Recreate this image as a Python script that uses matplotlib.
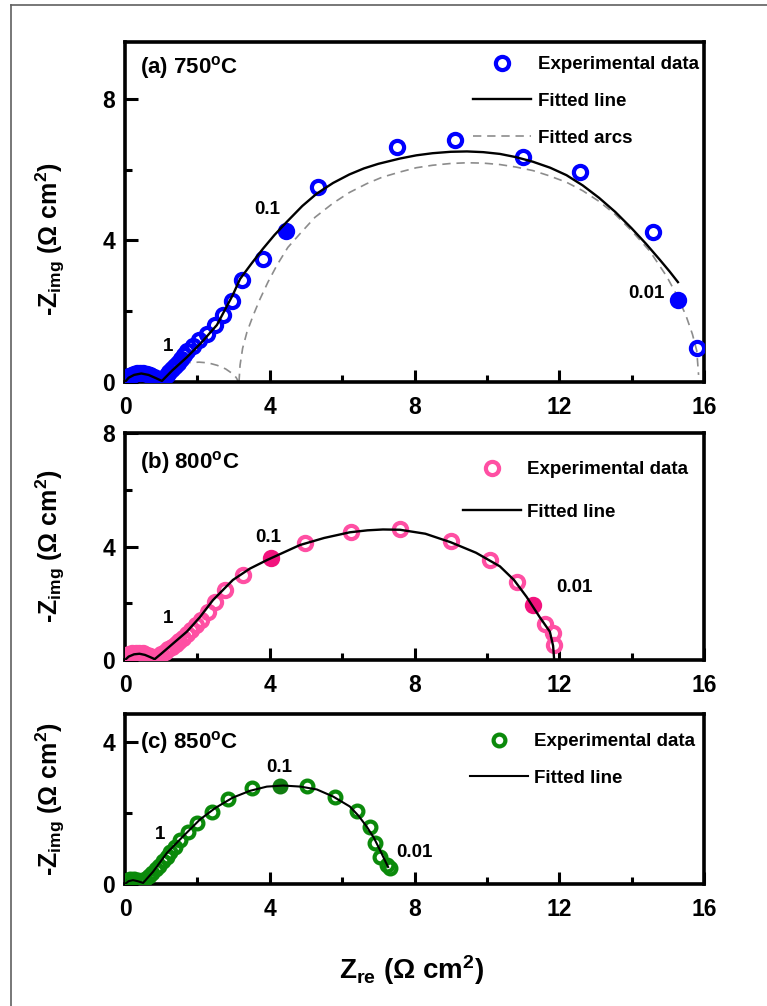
import matplotlib
matplotlib.use("Agg")
import matplotlib.pyplot as plt
from matplotlib.lines import Line2D
from matplotlib.ticker import MultipleLocator

plt.rcParams['font.family'] = ['Liberation Sans', 'DejaVu Sans']
plt.rcParams['font.weight'] = 'bold'
plt.rcParams['axes.labelweight'] = 'bold'
plt.rcParams['mathtext.fontset'] = 'custom'
plt.rcParams['mathtext.rm'] = 'Liberation Sans'
plt.rcParams['mathtext.bf'] = 'Liberation Sans:bold'
plt.rcParams['mathtext.it'] = 'Liberation Sans:bold'
plt.rcParams['mathtext.default'] = 'bf'

# ---------------- Panel (a) 750 C ----------------
a_exp_x = [0.05, 0.08, 0.12, 0.18, 0.25, 0.33, 0.42, 0.5, 0.6, 0.7, 0.8, 0.9, 1.0,
           1.08, 1.15, 1.22, 1.3, 1.38, 1.46, 1.55, 1.63, 1.71, 1.88, 2.05, 2.26, 2.49,
           2.71, 2.96, 3.23, 3.81, 5.33, 7.51, 9.12, 11.0, 12.57, 14.59, 15.8]
a_exp_y = [0.05, 0.12, 0.17, 0.21, 0.24, 0.25, 0.26, 0.25, 0.23, 0.19, 0.14, 0.09, 0.05,
           0.12, 0.2, 0.28, 0.36, 0.45, 0.55, 0.66, 0.77, 0.88, 1.02, 1.19, 1.36, 1.61,
           1.89, 2.29, 2.88, 3.47, 5.51, 6.64, 6.84, 6.36, 5.93, 4.24, 0.96]
a_fill_x = [4.45, 15.28]
a_fill_y = [4.27, 2.32]
a_fit_x = [0.0, 0.1, 0.25, 0.45, 0.65, 0.85, 1.02, 1.3, 1.71, 2.1, 2.54, 2.98, 3.18, 3.5,
           3.81, 4.13, 4.47, 4.9, 5.3, 5.75, 6.2, 6.6, 7.0, 7.6, 8.05, 8.5, 9.0, 9.45, 9.9,
           10.36, 10.8, 11.27, 11.75, 12.2, 12.65, 13.1, 13.55, 14.0, 14.4, 14.78, 15.05,
           15.28]
a_fit_y = [0.0, 0.12, 0.2, 0.24, 0.2, 0.11, 0.03, 0.32, 0.7, 1.1, 1.61, 2.46, 2.91, 3.35,
           3.76, 4.15, 4.52, 4.97, 5.32, 5.62, 5.86, 6.03, 6.16, 6.31, 6.4, 6.46, 6.5, 6.51,
           6.49, 6.44, 6.35, 6.22, 6.05, 5.84, 5.55, 5.2, 4.8, 4.34, 3.9, 3.45, 3.12,
           2.82]
a_arc1_x = [0.0, 0.05, 0.12, 0.22, 0.35, 0.5, 0.65, 0.78, 0.9, 0.98, 1.04]
a_arc1_y = [0.0, 0.1, 0.16, 0.21, 0.24, 0.25, 0.24, 0.2, 0.14, 0.08, 0.0]
a_arc2_x = [1.04, 1.1, 1.2, 1.35, 1.55, 1.8, 2.05, 2.3, 2.55, 2.78, 2.95, 3.07, 3.14]
a_arc2_y = [0.0, 0.18, 0.3, 0.41, 0.5, 0.55, 0.56, 0.54, 0.47, 0.37, 0.25, 0.13, 0.0]
a_arc3_x = [3.15, 3.18, 3.25, 3.37, 3.55, 3.73, 3.95, 4.2, 4.5, 4.83, 5.25, 5.75, 6.2, 6.68,
            7.1, 7.6, 8.05, 8.5, 9.0, 9.45, 9.9, 10.36, 10.8, 11.27, 11.7, 12.2, 12.65,
            13.1, 13.55, 14.0, 14.5, 14.97, 15.25, 15.5, 15.68, 15.8, 15.85]
a_arc3_y = [0.0, 0.48, 0.95, 1.41, 1.9, 2.34, 2.82, 3.3, 3.8, 4.18, 4.65, 5.05, 5.35, 5.6,
            5.78, 5.93, 6.05, 6.12, 6.17, 6.19, 6.18, 6.14, 6.07, 5.97, 5.83, 5.64, 5.4,
            5.1, 4.73, 4.27, 3.7, 2.98, 2.45, 1.88, 1.35, 0.88, 0.2]

# ---------------- Panel (b) 800 C ----------------
b_exp_x = [0.03, 0.07, 0.12, 0.2, 0.3, 0.4, 0.5, 0.6, 0.7, 0.8, 0.9, 1.0, 1.1, 1.2, 1.3,
           1.4, 1.5, 1.6, 1.7, 1.82, 1.95, 2.1, 2.28, 2.49, 2.76, 3.26, 4.97, 6.24, 7.59,
           9.0, 10.1, 10.83, 11.6, 11.83, 11.85]
b_exp_y = [0.08, 0.15, 0.2, 0.24, 0.26, 0.26, 0.24, 0.19, 0.13, 0.08, 0.12, 0.2, 0.29,
           0.38, 0.47, 0.57, 0.67, 0.78, 0.9, 1.05, 1.22, 1.42, 1.7, 2.04, 2.46, 2.99, 4.12,
           4.52, 4.6, 4.2, 3.52, 2.75, 1.28, 0.95, 0.53]
b_fill_x = [4.03, 11.27]
b_fill_y = [3.6, 1.94]
b_fit_x = [0.0, 0.1, 0.25, 0.4, 0.55, 0.7, 0.82, 1.0, 1.3, 1.71, 2.07, 2.43, 2.98, 3.45,
           3.92, 4.4, 4.83, 5.5, 6.21, 6.7, 7.13, 7.6, 8.3, 9.0, 9.7, 10.36, 10.75, 11.1,
           11.46, 11.74, 11.83, 11.86]
b_fit_y = [0.0, 0.12, 0.2, 0.22, 0.18, 0.1, 0.03, 0.22, 0.55, 1.0, 1.51, 2.11, 2.82, 3.22,
           3.52, 3.8, 4.05, 4.3, 4.5, 4.57, 4.6, 4.59, 4.45, 4.15, 3.78, 3.3, 2.82, 2.22,
           1.51, 1.0, 0.5, 0.0]

# ---------------- Panel (c) 850 C ----------------
c_exp_x = [0.03, 0.08, 0.15, 0.25, 0.35, 0.45, 0.55, 0.65, 0.75, 0.85, 0.95, 1.05, 1.15,
           1.25, 1.38, 1.52, 1.74, 1.99, 2.4, 2.85, 3.51, 5.03, 5.8, 6.41, 6.77, 6.91,
           7.04, 7.24, 7.32]
c_exp_y = [0.05, 0.1, 0.13, 0.14, 0.12, 0.08, 0.14, 0.22, 0.32, 0.42, 0.52, 0.64, 0.76,
           0.9, 1.05, 1.25, 1.48, 1.73, 2.02, 2.39, 2.7, 2.76, 2.47, 2.05, 1.62, 1.16,
           0.77, 0.54, 0.45]
c_fill_x = [4.28]
c_fill_y = [2.76]
c_fit_x = [0.0, 0.1, 0.22, 0.35, 0.5, 0.77, 1.16, 1.6, 2.07, 2.5, 2.98, 3.45, 3.92, 4.37,
           4.85, 5.3, 5.75, 6.21, 6.45, 6.68, 6.88, 7.04, 7.27]
c_fit_y = [0.0, 0.08, 0.11, 0.08, 0.03, 0.34, 0.88, 1.34, 1.82, 2.15, 2.44, 2.63, 2.75,
           2.78, 2.75, 2.67, 2.47, 2.19, 1.93, 1.62, 1.3, 0.97, 0.48]

freq_labels = ['1', '0.1', '0.01']
titles = ['(a) 750$^{\\mathrm{o}}$C', '(b) 800$^{\\mathrm{o}}$C', '(c) 850$^{\\mathrm{o}}$C']
x_ticks = [0, 4, 8, 12, 16]

fig = plt.figure(figsize=(7.67, 10.06), dpi=100)
W, H = 767.0, 1006.0

def axes_px(top, bottom, left=125, right=704):
    return fig.add_axes([left / W, 1 - bottom / H, (right - left) / W, (bottom - top) / H])

ax_a = axes_px(42, 382)
ax_b = axes_px(433, 660)
ax_c = axes_px(714, 884)

blue = '#0000ff'
pink = '#ff4fa3'
pink_fill = '#f2137d'
green = '#0b8a0b'
green_fill = '#117d11'

ms, mew = 9.5, 3.0

def style(ax, ymax, ymajor, ylab_y):
    ax.set_xlim(0, 16)
    ax.set_ylim(0, ymax)
    ax.set_xticks(x_ticks)
    ax.xaxis.set_minor_locator(MultipleLocator(2))
    ax.yaxis.set_major_locator(MultipleLocator(ymajor))
    ax.yaxis.set_minor_locator(MultipleLocator(2))
    ax.tick_params(which='major', direction='in', length=9, width=2.2, labelsize=16.5, pad=7)
    ax.tick_params(which='minor', direction='in', length=5, width=2.2)
    ax.tick_params(axis='x', which='major', pad=10)
    for s in ax.spines.values():
        s.set_linewidth(2.6)
    for lbl in ax.get_xticklabels() + ax.get_yticklabels():
        lbl.set_fontweight('bold')
    ax.set_ylabel('-Z$_{\\mathbf{img}}$ ($\\mathrm{\\Omega}$ cm$^{\\mathbf{2}}$)', fontsize=18,
                  fontweight='bold')
    ax.yaxis.set_label_coords((50 - 125) / 579.0, ylab_y)
    ax.yaxis.label.set_verticalalignment('center')

# Panel (a)
ax = ax_a
ax.plot(a_exp_x, a_exp_y, 'o', mfc='none', mec=blue, ms=ms, mew=mew, zorder=3, label='Experimental data')
ax.plot(a_fill_x, a_fill_y, 'o', mfc=blue, mec=blue, ms=ms, mew=mew, zorder=3)
ax.plot(a_fit_x, a_fit_y, '-', color='black', lw=1.7, zorder=4, label='Fitted line')
ax.plot(a_arc3_x, a_arc3_y, '--', color='#8c8c8c', lw=1.2, dashes=(5, 3.5), zorder=2, label='Fitted arcs')
ax.plot(a_arc1_x, a_arc1_y, '--', color='#8c8c8c', lw=1.2, dashes=(5, 3.5), zorder=2)
ax.plot(a_arc2_x, a_arc2_y, '--', color='#8c8c8c', lw=1.2, dashes=(5, 3.5), zorder=2)
style(ax, 9.6, 4, 0.42)
ax.text(0.026, 0.924, titles[0], transform=ax.transAxes, fontsize=16, ha='left', va='center')
ax.text(1.19, 0.99, freq_labels[0], fontsize=13.5, ha='center', va='center')
ax.text(3.92, 4.86, freq_labels[1], fontsize=13.5, ha='center', va='center')
ax.text(14.42, 2.49, freq_labels[2], fontsize=13.5, ha='center', va='center')
leg = ax.legend(loc='upper left', bbox_to_anchor=((473 - 125) / 579.0, (382 - 56) / 340.0),
                frameon=False, fontsize=13.5, handlelength=3.1, handletextpad=0.35,
                labelspacing=1.05, borderpad=0, borderaxespad=0)
leg.set_zorder(5)

# Panel (b)
ax = ax_b
ax.plot(b_exp_x, b_exp_y, 'o', mfc='none', mec=pink, ms=ms, mew=mew, zorder=3, label='Experimental data')
ax.plot(b_fill_x, b_fill_y, 'o', mfc=pink_fill, mec=pink_fill, ms=ms, mew=mew, zorder=3)
ax.plot(b_fit_x, b_fit_y, '-', color='black', lw=1.7, zorder=4, label='Fitted line')
style(ax, 8, 4, 0.5)
ax.text(0.026, 0.868, titles[1], transform=ax.transAxes, fontsize=16, ha='left', va='center')
ax.text(1.19, 1.48, freq_labels[0], fontsize=13.5, ha='center', va='center')
ax.text(3.95, 4.33, freq_labels[1], fontsize=13.5, ha='center', va='center')
ax.text(11.93, 2.54, freq_labels[2], fontsize=13.5, ha='left', va='center')
ax.legend(loc='upper left', bbox_to_anchor=((463 - 125) / 579.0, (660 - 461) / 227.0),
          frameon=False, fontsize=13.5, handlelength=3.1, handletextpad=0.3,
          labelspacing=1.35, borderpad=0, borderaxespad=0)

# Panel (c)
ax = ax_c
ax.plot(c_exp_x, c_exp_y, 'o', mfc='none', mec=green, ms=ms - 1, mew=mew, zorder=3, label='Experimental data')
ax.plot(c_fill_x, c_fill_y, 'o', mfc=green_fill, mec=green_fill, ms=ms - 1, mew=mew, zorder=3)
ax.plot(c_fit_x, c_fit_y, '-', color='black', lw=1.5, zorder=4, label='Fitted line')
style(ax, 4.8, 4, 0.5)
ax.text(0.026, 0.83, titles[2], transform=ax.transAxes, fontsize=16, ha='left', va='center')
ax.text(0.97, 1.39, freq_labels[0], fontsize=13.5, ha='center', va='center')
ax.text(4.25, 3.3, freq_labels[1], fontsize=13.5, ha='center', va='center')
ax.text(7.5, 0.88, freq_labels[2], fontsize=13.5, ha='left', va='center')
ax.legend(loc='upper left', bbox_to_anchor=((470 - 125) / 579.0, (884 - 733) / 170.0),
          frameon=False, fontsize=13.5, handlelength=3.1, handletextpad=0.3,
          labelspacing=1.05, borderpad=0, borderaxespad=0)
ax.set_xlabel('Z$_{\\mathbf{re}}$ ($\\mathrm{\\Omega}$ cm$^{\\mathbf{2}}$)', fontsize=20,
              fontweight='bold')
ax.xaxis.set_label_coords((412 - 125) / 579.0, (884 - 970) / 170.0)
ax.xaxis.label.set_verticalalignment('center')

# thin frame around the figure (top and left edges)
fig.add_artist(Line2D([11 / W, 11 / W], [0, 1 - 5 / H], color='#606060', lw=1.2, transform=fig.transFigure))
fig.add_artist(Line2D([11 / W, 1], [1 - 5 / H, 1 - 5 / H], color='#606060', lw=1.2, transform=fig.transFigure))

fig.savefig('out.png', dpi=100)
